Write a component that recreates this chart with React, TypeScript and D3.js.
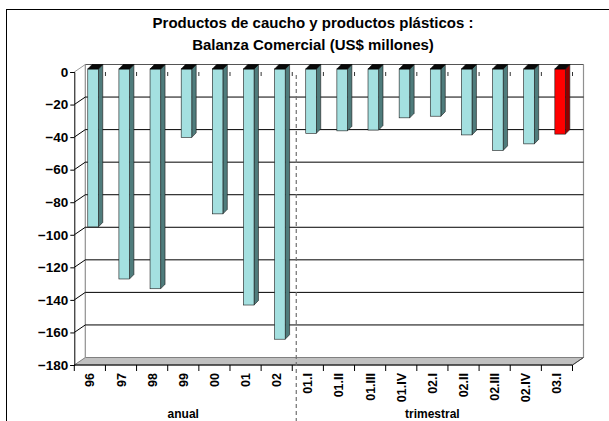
import { useEffect, useRef } from "react";
import * as d3 from "d3";

const categories = ["96", "97", "98", "99", "00", "01", "02", "01.I", "01.II", "01.III", "01.IV", "02.I", "02.II", "02.III", "02.IV", "03.I"];
const values = [-97, -129, -135, -42, -89, -145, -166, -39.5, -38, -37.5, -30, -29, -40.5, -50, -46, -40];
const highlighted = ["03.I"];
const yTicks = [0, -20, -40, -60, -80, -100, -120, -140, -160, -180];
const groups = [
    { label: "anual", from: "96", to: "02" },
    { label: "trimestral", from: "01.I", to: "03.I" },
];
const titleLines = ["Productos de caucho y productos plásticos :", "Balanza Comercial (US$ millones)"];

export default function App() {
    const ref = useRef<SVGSVGElement | null>(null);

    useEffect(() => {
        const width = 609;
        const height = 421;
        const font = "Arial, 'Liberation Sans', sans-serif";
        // front plane of the 3d box
        const x0 = 74.3;
        const x1 = 572.5;
        const depthX = 11;
        const depthY = -7.5;

        const svg = d3.select(ref.current);
        svg.selectAll("*").remove();

        const x = d3.scaleBand<string>().domain(categories).range([x0, x1]);
        const y = d3.scaleLinear().domain([-180, 0]).range([365, 72]);
        const bw = x.bandwidth();

        svg.append("rect")
            .attr("x", 0).attr("y", 0).attr("width", width).attr("height", height)
            .attr("fill", "#fff");
        // chart area border (runs past the picture on right/bottom)
        svg.append("rect")
            .attr("x", 6.5).attr("y", 9.5).attr("width", 640).attr("height", 440)
            .attr("fill", "none").attr("stroke", "#000").attr("stroke-width", 1);

        // title
        svg.append("g")
            .selectAll("text")
            .data(titleLines)
            .join("text")
            .attr("x", 313)
            .attr("y", (d, i) => 28 + i * 22)
            .attr("text-anchor", "middle")
            .attr("font-family", font)
            .attr("font-weight", "bold")
            .attr("font-size", 15)
            .text((d) => d);

        const yBack = (v: number) => y(v) + depthY;
        const xBackL = x0 + depthX;
        const xBackR = x1 + depthX;

        // floor
        svg.append("path")
            .attr("d", `M${x0},${y(-180)}L${x1},${y(-180)}L${xBackR},${yBack(-180)}L${xBackL},${yBack(-180)}Z`)
            .attr("fill", "#c0c0c0")
            .attr("stroke", "#808080")
            .attr("stroke-width", 1);

        // walls edges
        svg.append("line")
            .attr("x1", xBackL).attr("x2", xBackL)
            .attr("y1", yBack(0)).attr("y2", yBack(-180))
            .attr("stroke", "#909090").attr("stroke-width", 1.2);
        svg.append("line")
            .attr("x1", xBackR).attr("x2", xBackR)
            .attr("y1", yBack(0)).attr("y2", yBack(-180))
            .attr("stroke", "#909090").attr("stroke-width", 1.2);

        // gridlines: back wall and left wall
        const grid = svg.append("g");
        yTicks.filter((t) => t > -180).forEach((t) => {
            grid.append("line")
                .attr("x1", xBackL).attr("x2", xBackR)
                .attr("y1", yBack(t)).attr("y2", yBack(t))
                .attr("stroke", t === 0 ? "#555" : "#000").attr("stroke-width", 1);
            grid.append("line")
                .attr("x1", x0).attr("x2", xBackL)
                .attr("y1", y(t)).attr("y2", yBack(t))
                .attr("stroke", t === 0 ? "#999" : "#000").attr("stroke-width", 1);
        });

        // front floor edge = category axis
        svg.append("line")
            .attr("x1", x0).attr("x2", x1)
            .attr("y1", y(-180)).attr("y2", y(-180))
            .attr("stroke", "#000");
        svg.append("line")
            .attr("x1", x1).attr("x2", xBackR)
            .attr("y1", y(-180)).attr("y2", yBack(-180))
            .attr("stroke", "#404040");

        // value axis
        const yAxis = d3.axisLeft(y).tickValues(yTicks).tickSize(4).tickPadding(2);
        const ya = svg.append("g")
            .attr("transform", `translate(${x0},0)`)
            .call(yAxis);
        ya.select(".domain").attr("stroke", "#000");
        ya.selectAll("text")
            .attr("font-family", font)
            .attr("font-weight", "bold")
            .attr("font-size", 13.5)
            .attr("fill", "#000");

        // category ticks along bottom and at the zero line
        const bounds = d3.range(categories.length + 1).map((i) => x0 + i * bw);
        svg.append("g")
            .selectAll("line")
            .data(bounds)
            .join("line")
            .attr("x1", (d) => d).attr("x2", (d) => d)
            .attr("y1", y(-180)).attr("y2", y(-180) + 6)
            .attr("stroke", "#000");
        svg.append("g")
            .selectAll("line")
            .data(bounds.slice(1))
            .join("line")
            .attr("x1", (d) => d).attr("x2", (d) => d)
            .attr("y1", y(0)).attr("y2", y(0) + 4)
            .attr("stroke", "#333");

        // 3d bars
        const barW = bw * 0.34;
        const offX = 3.2;
        const offY = -3;
        const dX = 4.4;
        const dY = -4.5;
        const bars = svg.append("g");
        categories.forEach((c, i) => {
            const v = values[i];
            const red = highlighted.includes(c);
            const bx = (x(c) ?? 0) + (bw - barW) / 2 + offX;
            const top = y(0) + offY;
            const bot = y(v) + offY;
            const g = bars.append("g");
            g.append("path")
                .attr("d", `M${bx + barW},${top}L${bx + barW + dX},${top + dY}L${bx + barW + dX},${bot + dY}L${bx + barW},${bot}Z`)
                .attr("fill", red ? "#900000" : "#4f7c7c")
                .attr("stroke", "#1a1a1a").attr("stroke-width", 0.6);
            g.append("rect")
                .attr("x", bx).attr("y", top)
                .attr("width", barW).attr("height", bot - top)
                .attr("fill", red ? "#ff0000" : "#a4e0e0")
                .attr("stroke", "#1a1a1a").attr("stroke-width", 0.6);
            g.append("path")
                .attr("d", `M${bx},${top}L${bx + dX},${top + dY}L${bx + barW + dX},${top + dY}L${bx + barW},${top}Z`)
                .attr("fill", "#0a0a0a")
                .attr("stroke", "#000").attr("stroke-width", 0.6);
        });

        // category labels
        svg.append("g")
            .selectAll("text")
            .data(categories)
            .join("text")
            .attr("transform", (d) => `translate(${(x(d) ?? 0) + bw / 2},${y(-180) + 8}) rotate(-90)`)
            .attr("text-anchor", "end")
            .attr("dy", "0.36em")
            .attr("font-family", font)
            .attr("font-weight", "bold")
            .attr("font-size", 12.5)
            .text((d) => d);

        // group labels
        svg.append("g")
            .selectAll("text")
            .data(groups)
            .join("text")
            .attr("x", (g) => ((x(g.from) ?? 0) + (x(g.to) ?? 0) + bw) / 2)
            .attr("y", 418)
            .attr("text-anchor", "middle")
            .attr("font-family", font)
            .attr("font-weight", "bold")
            .attr("font-size", 12)
            .text((g) => g.label);

        // separator between anual and trimestral
        const sepX = (x("01.I") ?? 0) + 4;
        svg.append("line")
            .attr("x1", sepX).attr("x2", sepX)
            .attr("y1", y(0) + 3).attr("y2", height)
            .attr("stroke", "#707070")
            .attr("stroke-width", 1.2)
            .attr("stroke-dasharray", "4,3");
    }, []);

    return (
        <svg
            ref={ref}
            width={609}
            height={421}
            style={{ position: "absolute", left: 0, top: 0 }}
        />
    );
}
